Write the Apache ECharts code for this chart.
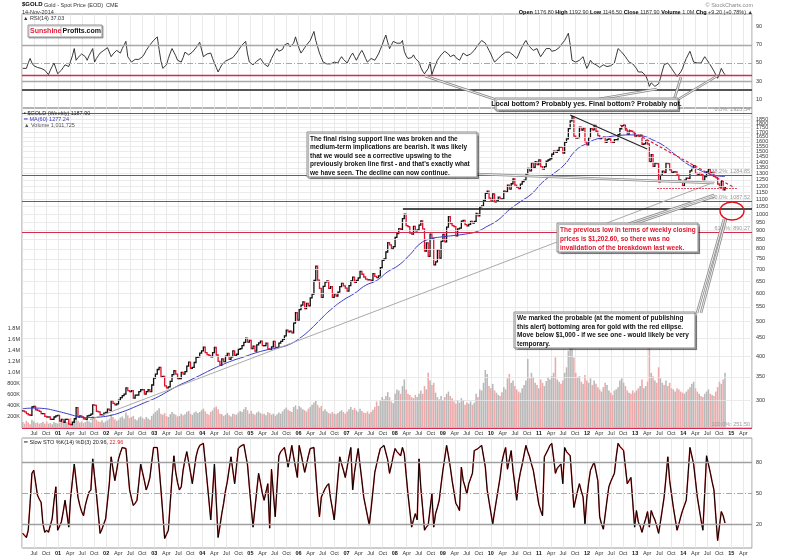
<!DOCTYPE html>
<html><head><meta charset="utf-8">
<script src="https://cdn.jsdelivr.net/npm/echarts@6.0.0/dist/echarts.min.js"></script>
<style>html,body{margin:0;padding:0;background:#fff}#c{width:800px;height:556px}</style>
</head><body><div id="c"></div>
<script>
// ---- data (biweekly samples, Friday closes, from 2000-04-07 to 2014-11-14) ----
const startYear = 2000, startMonth = 3, startDay = 7, stepDays = 14;
const closes = [
281,279,276,274,273,288,289,283,282,280,276,276,271,270,270,266,266,270,272,273,
263,266,261,266,266,258,257,261,267,287,270,272,270,267,266,272,273,275,292,291,280,279,274,274,277,278,
284,282,300,295,292,294,301,306,310,313,326,320,318,320,305,311,311,318,322,322,313,318,322,318,332,347,
356,367,372,350,351,330,326,328,340,355,364,356,346,346,360,356,362,375,385,370,372,384,397,398,408,414,
424,409,404,402,398,409,423,403,387,377,393,386,400,407,392,398,414,402,405,418,420,428,437,449,438,443,
420,427,413,430,436,441,428,428,435,419,418,425,440,423,423,435,440,446,456,473,468,470,465,495,530,505,
540,556,568,544,562,554,583,597,652,715,654,620,585,628,645,650,620,627,585,598,590,605,627,640,630,621,
609,631,650,666,644,653,663,692,679,667,658,655,655,652,682,670,664,672,709,743,750,784,833,821,800,812,
862,883,912,908,972,1001,929,923,885,880,925,899,904,933,958,910,789,831,762,880,857,722,735,795,753,840,
878,837,920,985,942,930,923,870,910,915,957,962,935,928,937,955,945,955,1006,990,1050,1056,1095,1145,1162,1110,
1096,1140,1083,1090,1118,1102,1105,1161,1157,1208,1177,1218,1256,1208,1190,1181,1215,1236,1246,1297,1345,1325,1395,1353,1405,1378,1421,
1360,1340,1360,1410,1420,1430,1474,1504,1491,1510,1542,1540,1486,1592,1628,1740,1828,1880,1657,1636,1642,1755,1724,1746,1598,1565,
1640,1740,1725,1775,1710,1662,1630,1642,1645,1592,1622,1627,1598,1592,1619,1620,1672,1738,1773,1780,1724,1676,1714,1711,1696,1656,
1662,1657,1667,1572,1577,1606,1575,1404,1470,1363,1391,1388,1234,1286,1321,1312,1395,1387,1333,1311,1315,1315,1288,1250,1235,1204,
1247,1264,1262,1323,1345,1370,1302,1294,1302,1294,1245,1275,1316,1337,1305,1310,1280,1268,1216,1192,1238,1172,1188
];
const volumesK = [
110,80,130,100,70,150,120,90,100,80,90,110,80,120,80,90,70,110,90,80,
100,130,90,150,110,140,180,110,150,200,130,100,120,90,110,140,120,100,220,180,150,120,110,140,100,120,
140,170,250,200,160,130,150,190,210,170,280,230,180,200,220,160,140,190,210,180,160,200,170,150,220,260,
290,320,360,260,240,270,220,200,250,290,260,240,210,220,260,230,250,290,310,260,240,280,300,270,290,320,
350,300,260,240,290,320,370,390,340,260,250,220,240,270,230,210,260,250,240,280,310,290,340,380,320,260,
310,260,240,280,300,270,250,260,230,290,270,240,260,220,250,280,260,300,340,370,330,310,290,380,410,340,
400,370,340,320,300,350,380,420,460,500,420,370,400,310,340,300,270,260,290,260,250,270,300,320,290,260,
300,340,380,330,360,320,290,350,310,280,270,300,260,290,330,380,480,400,500,560,520,580,650,560,480,450,
620,700,680,620,760,880,700,620,600,560,540,600,560,620,680,620,760,700,1000,860,780,820,640,560,520,580,
500,560,620,660,580,540,480,440,500,460,540,500,420,460,440,480,420,460,620,560,700,680,820,1050,980,760,
720,800,680,640,600,580,650,740,700,900,980,820,860,760,700,660,640,720,780,860,1250,900,1000,920,820,780,720,
880,820,760,850,920,880,940,1000,1280,880,840,800,860,1000,1100,1400,1540,1450,1280,1000,920,940,840,800,960,860,
820,900,780,860,800,740,700,660,740,820,780,680,640,600,680,700,740,860,900,820,760,680,640,620,680,640,
680,720,760,880,720,760,840,1450,1000,940,860,820,1100,900,820,780,860,760,820,720,700,660,720,700,660,640,
620,660,700,740,800,840,720,660,620,580,560,620,660,700,620,600,580,660,740,840,800,880,1000
];
const rsi14 = [
44,43,44,50,55,50,47,46,45,45, 44,44,42,40,37,42,46,50,44,38, 40,42,45,48,47,46,52,58,66,53,
56,58,60,61,57,53,58,62,66,51, 55,58,61,63,64,66,67,68,57,60, 62,64,62,61,66,70,74,57,54,51,
53,54,55,54,53,57,60,64,67,70, 72,75,77,79,65,52,44,46,48,55, 61,66,62,58,53,52,51,56,62,60,
59,59,62,64,67,70,73,75,57,59, 60,61,61,55,50,45,40,44,48,50, 52,53,54,55,56,57,61,64,67,70,
72,74,60,51,50,48,50,52,53,55, 52,49,47,46,50,55,59,63,66,63, 61,65,70,72,72,68,66,72,79,72,
66,61,64,67,70,72,75,80,85,75, 68,61,56,51,50,49,48,49,50,51, 51,50,54,57,54,52,50,54,58,61,
57,53,57,61,64,60,55,51,53,55, 55,53,51,60,65,70,76,81,73,66, 70,74,73,72,72,72,75,63,58,55,
53,56,59,55,53,51,45,41,38,37, 44,51,37,43,48,53,56,59,61,63, 64,60,57,58,59,56,55,53,57,61,
59,58,57,60,62,64,67,70,72,75, 77,72,68,64,60,55,51,53,55,57, 59,61,62,64,62,60,59,57,55,59,
64,68,72,75,71,68,66,64,65,66, 61,57,60,63,66,68,66,63,64,64, 64,67,70,72,75,79,83,70,53,52,
51,51,53,55,57,50,44,48,53,50, 49,48,46,45,44,48,47,46,46,47, 49,50,58,66,64,62,61,57,54,51,
50,49,48,44,40,40,40,40,36,31, 24,28,26,24,22,27,33,41,48,49, 50,47,44,41,38,35,37,40,44,50,
55,59,63,57,51,50,50,50,50,51, 57,54,51,48,46,41,37,33,38,44, 40,37
];
const stoK = [
11,9,7,14,40,69,72,60,48,44, 41,20,12,14,12,11,25,42,56,14, 18,22,32,43,30,17,45,62,78,62,
46,38,32,28,38,45,51,53,83,66, 49,30,11,15,20,25,42,59,85,73, 62,72,83,89,94,94,93,73,53,45,
38,40,43,60,78,70,62,53,58,65, 80,94,95,94,75,53,30,6,10,14, 40,65,86,70,60,53,56,72,82,90,
80,70,59,72,85,92,96,97,98,80, 62,43,24,50,78,42,7,18,30,40, 52,61,73,85,72,59,76,93,95,96,
97,98,77,56,36,17,35,52,69,60, 50,43,51,59,16,73,50,27,56,86, 90,92,94,85,75,85,96,85,75,65,
96,88,79,70,78,86,93,94,94,70, 45,27,46,50,54,57,59,45,35,24, 44,65,85,78,72,65,75,85,94,53,
70,82,93,77,62,46,37,28,19,35, 52,70,78,86,93,94,96,96,82,69, 77,86,93,90,88,86,94,88,68,49,
33,17,24,30,24,83,55,35,14,17, 19,34,49,17,30,36,43,58,72,84, 96,86,75,62,51,40,37,33,75,62,
56,49,59,64,69,91,91,93,94,96, 96,75,53,42,31,20,32,43,54,65, 80,88,94,73,73,91,72,58,43,60,
70,78,87,96,90,85,78,72,61,50, 39,33,28,85,85,92,96,98,84,69, 74,76,78,59,94,90,88,86,61,36,
44,52,59,52,46,20,45,60,72,76, 80,71,62,27,20,15,15,43,56,61, 65,69,85,98,95,93,91,75,59,62,
65,41,17,33,22,18,12,19,25,32, 17,33,28,24,18,11,22,34,46,65, 85,62,49,36,25,14,20,27,33,38,
43,68,94,86,78,62,46,35,24,14, 50,86,78,70,61,53,28,4,18,32, 28,21
];
// MA(60) read every 6th sample, last value at the final sample
const maStep = 6;
const ma60 = [285,286,285,281,276,271,269,270,273,279,287,296,305,317,330,341,353,366,378,389,398,408,416,422,430,448,475,510,545,575,600,632,652,690,720,770,830,855,865,872,880,893,925,965,1030,1085,1140,1230,1300,1380,1510,1580,1630,1650,1665,1670,1660,1615,1555,1470,1390,1340,1300,1280,1277];
const priceTicks = [300,350,400,450,500,550,600,650,700,750,800,850,900,950,1000,1050,1100,1150,1200,1250,1300,1350,1400,1450,1500,1550,1600,1650,1700,1750,1800,1850,1900];
const rsiTicks = [10,30,50,70,90];
const stoTicks = [20,50,80];
const fibNames = ['0.0%','38.2%','50.0%','61.8%','100.0%'];
const fibValues = [1923.54,1284.85,1087.52,890.27,251.50];
const quarterNames = ['','Apr','Jul','Oct'];

// ---- helpers ----
function decYear(t){const d=new Date(t);const y=d.getUTCFullYear();const s=Date.UTC(y,0,1),e=Date.UTC(y+1,0,1);return y+(t-s)/(e-s);}
const t0 = Date.UTC(startYear,startMonth,startDay);
const xs = closes.map((_,i)=>decYear(t0+i*stepDays*864e5));
const XMIN = 2000.25, XMAX = 2015.43;
const FONT = 'Liberation Sans, Arial, sans-serif';

const priceData = closes.map((c,i)=>[xs[i], i?closes[i-1]:c, c]);
const volData = volumesK.map((v,i)=>({value:[xs[i], v*1000], itemStyle:{color:(i>0&&closes[i]<closes[i-1])?'#eeaaaa':'#b9b9b9'}}));
const maData = ma60.map((v,k)=>[xs[Math.min(k*maStep, closes.length-1)], v]);
const rsiData = rsi14.map((v,i)=>[xs[i],v]);
const rsiHiBase = rsi14.map((v,i)=>[xs[i],70]);
const rsiHiTop = rsi14.map((v,i)=>[xs[i],Math.max(v,70)-70]);
const rsiLoBase = rsi14.map((v,i)=>[xs[i],Math.min(v,30)]);
const rsiLoTop = rsi14.map((v,i)=>[xs[i],30-Math.min(v,30)]);
const stoData = stoK.map((v,i)=>[xs[i],v]);

function xLabel(v){const q=Math.round(v*4); if(Math.abs(v*4-q)>0.01) return ''; const y=Math.floor(q/4), m=q-y*4; if(m===0) return '{b|'+String(y%100).padStart(2,'0')+'}'; return quarterNames[m];}
function xAxisCfg(grid, showLabel){
  return {type:'value', gridIndex:grid, min:XMIN, max:XMAX, interval:0.25,
    axisLine:{show:false}, axisTick:{show:false},
    splitLine:{show:true, lineStyle:{color:'#e3e3e3', width:0.8}},
    axisLabel:{show:showLabel, formatter:xLabel, fontSize:5.5, fontFamily:FONT, color:'#333', margin:2, showMinLabel:false, showMaxLabel:false,
      rich:{b:{fontSize:5.5, fontWeight:'bold', fontFamily:FONT, color:'#111'}}}};
}
const lbl = {fontSize:5.5, fontFamily:FONT, color:'#333', margin:4, formatter:function(v){return String(v);}};
const noLine = {show:false};

const fibMarks = fibValues.map((v,i)=>({yAxis:v, lineStyle:{color:'#d42c4e', width:1.2, type:'solid'},
  label:{show:true, position:'insideEndTop', formatter:fibNames[i]+': '+v.toFixed(2), fontSize:5.5, fontFamily:FONT, color:'#999', distance:[2,1]}}));
function seg(a,b,style){return [{coord:a, lineStyle:style},{coord:b, lineStyle:style}];}
const trendMarks = [
  seg([2001.66,265],[2014.66,1233],{color:'#aaa',width:1,type:'solid'}),
  seg([2008.17,1035],[XMAX,1035],{color:'#111',width:1.5,type:'solid'}),
  seg([2011.65,1900],[2013.25,1525],{color:'#222',width:1.1,type:'solid'}),
  seg([2012.69,1780],[2015.04,1193],{color:'#e0102f',width:1.1,type:[3,2]}),
  seg([2013.46,1180],[2015.12,1180],{color:'#e0102f',width:1,type:[1.5,1.5]})
];

const chart = echarts.init(document.getElementById('c'), null, {renderer:'canvas'});

function box(x,y,w,h){return {type:'rect', z:95, shape:{x:x,y:y,width:w,height:h}, style:{fill:'#fff', stroke:'#8a8a8a', lineWidth:1, shadowColor:'rgba(0,0,0,0.35)', shadowOffsetX:1.5, shadowOffsetY:1.5, shadowBlur:1}};}
function txt(x,y,text,opt){return Object.assign({type:'text', z:97, x:x, y:y, style:Object.assign({text:text, font:'5.5px '+FONT, fill:'#333', textAlign:'left', textVerticalAlign:'top'}, opt||{})});}
function conn(x1,y1,x2,y2){return [
  {type:'line', z:90, shape:{x1:x1,y1:y1,x2:x2,y2:y2}, style:{stroke:'#8c8c8c', lineWidth:2.6}},
  {type:'line', z:91, shape:{x1:x1,y1:y1,x2:x2,y2:y2}, style:{stroke:'#ececec', lineWidth:1}}];}

const graphics = [].concat(
  conn(497,100,425,76), conn(593,100,657,89), conn(674,100,681,77), conn(677,100,717,76),
  conn(476,174,714,183), conn(628,224,714,195), conn(634,224,715,196), conn(697,313,724,219), conn(701,313,726,219),
  [
  {type:'ellipse', z:92, shape:{cx:732, cy:211, rx:12, ry:9}, style:{fill:null, stroke:'#e0101a', lineWidth:1.3}},
  // header
  txt(22,1.5,'$GOLD',{font:'bold 6px '+FONT, fill:'#000'}),
  txt(44,2.5,'Gold - Spot Price (EOD)  CME',{fill:'#333'}),
  txt(22,9,'14-Nov-2014',{fill:'#333'}),
  txt(753,2,'\u00a9 StockCharts.com',{textAlign:'right', fill:'#888'}),
  txt(753,9,'{b|Open} 1176.80 {b|High} 1192.90 {b|Low} 1146.50 {b|Close} 1187.90 {b|Volume} 1.0M {b|Chg} +9.20 (+0.78%) \u25b2',{textAlign:'right', fill:'#333', rich:{b:{font:'bold 5.5px '+FONT, fill:'#000'}}}),
  txt(23,15.5,'\u25b2 RSI(14) 37.03',{fill:'#333'}),
  // logo
  {type:'rect', z:95, shape:{x:28,y:25,width:74,height:12}, style:{fill:'#fff', stroke:'#999', lineWidth:1, shadowColor:'rgba(0,0,0,0.3)', shadowOffsetX:1, shadowOffsetY:1, shadowBlur:1}},
  {type:'line', z:96, shape:{x1:61,y1:26,x2:61,y2:36}, style:{stroke:'#bbb', lineWidth:1}},
  txt(30,27.5,'Sunshine',{font:'bold 7px '+FONT, fill:'#e0203a'}),
  txt(62.5,27.5,'Profits.com',{font:'bold 7px '+FONT, fill:'#111'}),
  // main legend
  txt(24,110.5,'\u25aa $GOLD (Weekly) 1187.90',{fill:'#222'}),
  txt(24,116.5,'\u2501 MA(60) 1277.24',{fill:'#3535b8'}),
  txt(24,122.5,'\u25b2 Volume 1,011,725',{fill:'#555'}),
  // sto legend
  txt(24,439.5,'\u2501 Slow STO %K(14) %D(3) 20.96, {r|22.96}',{fill:'#222', rich:{r:{font:'5.5px '+FONT, fill:'#e02020'}}}),
  // annotation boxes
  box(495,98,183,12),
  txt(586.5,100.5,'Local bottom? Probably yes. Final bottom? Probably not.',{font:'bold 7px '+FONT, fill:'#111', textAlign:'center'}),
  box(307,132,170,45),
  txt(310,134.5,"The final rising support line was broken and the\nmedium-term implications are bearish. It was likely\nthat we would see a corrective upswing to the\npreviously broken line first - and that's exactly what\nwe have seen. The decline can now continue.",{font:'bold 6.5px '+FONT, fill:'#111', lineHeight:8.5}),
  box(557,223,141,29),
  txt(560,225.5,'The previous low in terms of weekly closing\nprices is $1,202.60, so there was no\ninvalidation of the breakdown last week.',{font:'bold 6.5px '+FONT, fill:'#e3122a', lineHeight:9}),
  box(514,312,181,36),
  txt(517,314.5,'We marked the probable (at the moment of publishing\nthis alert) bottoming area for gold with the red ellipse.\nMove below $1,000 - if we see one - would likely be very\ntemporary.',{font:'bold 6.5px '+FONT, fill:'#111', lineHeight:8.4})
  ]);

const option = {
  animation:false,
  backgroundColor:'#fff',
  grid:[
    {left:22, right:48, top:14, height:94, show:true, borderColor:'#9a9a9a', borderWidth:1},
    {left:22, right:48, top:108, height:320, show:true, borderColor:'#9a9a9a', borderWidth:1},
    {left:22, right:48, top:438, height:110, show:true, borderColor:'#9a9a9a', borderWidth:1}
  ],
  xAxis:[xAxisCfg(0,false), xAxisCfg(1,true), xAxisCfg(2,true)],
  yAxis:[
    {type:'value', gridIndex:0, min:0, max:104.4, position:'right', axisLine:noLine, axisTick:noLine, splitLine:noLine,
      axisLabel:Object.assign({customValues:rsiTicks}, lbl)},
    {type:'log', gridIndex:1, min:251.5, max:1987, position:'right', axisLine:noLine, axisTick:noLine, splitLine:noLine,
      axisLabel:Object.assign({customValues:priceTicks}, lbl)},
    {type:'value', gridIndex:1, min:0, max:5800000, interval:200000, position:'left', axisLine:noLine, axisTick:noLine, splitLine:noLine,
      axisLabel:Object.assign({}, lbl, {margin:2, formatter:function(v){ if(v<=0||v>1800000) return ''; return v>=1e6?(v/1e6).toFixed(1)+'M':Math.round(v/1000)+'K';}})},
    {type:'value', gridIndex:2, min:-3.2, max:103.2, position:'right', axisLine:noLine, axisTick:noLine, splitLine:noLine,
      axisLabel:Object.assign({customValues:stoTicks}, lbl)}
  ],
  graphic:graphics,
  series:[
    // RSI shading
    {type:'line', xAxisIndex:0, yAxisIndex:0, data:rsiHiBase, stack:'hi', symbol:'none', lineStyle:{width:0}, silent:true, z:1},
    {type:'line', xAxisIndex:0, yAxisIndex:0, data:rsiHiTop, stack:'hi', symbol:'none', lineStyle:{width:0}, areaStyle:{color:'#6f9a72', opacity:1}, silent:true, z:1},
    {type:'line', xAxisIndex:0, yAxisIndex:0, data:rsiLoBase, stack:'lo', symbol:'none', lineStyle:{width:0}, silent:true, z:1},
    {type:'line', xAxisIndex:0, yAxisIndex:0, data:rsiLoTop, stack:'lo', symbol:'none', lineStyle:{width:0}, areaStyle:{color:'#c05252', opacity:1}, silent:true, z:1},
    {type:'line', xAxisIndex:0, yAxisIndex:0, data:rsiData, symbol:'none', lineStyle:{color:'#222', width:0.9}, silent:true, z:3,
      markLine:{silent:true, symbol:['none','none'], label:{show:false}, data:[
        {yAxis:70, lineStyle:{color:'#a8a8a8', width:1.4, type:'solid'}},
        {yAxis:50, lineStyle:{color:'#a8a8a8', width:1, type:[6,2,1,2]}},
        {yAxis:36, lineStyle:{color:'#d42c4e', width:1.3, type:'solid'}},
        {yAxis:30, lineStyle:{color:'#a8a8a8', width:1.4, type:'solid'}},
        {yAxis:20, lineStyle:{color:'#555', width:2.2, type:'solid'}}
      ]}},
    // main panel gridlines
    {type:'line', xAxisIndex:1, yAxisIndex:1, data:[], silent:true, z:0,
      markLine:{silent:true, symbol:['none','none'], label:{show:false}, lineStyle:{color:'#e6e6e6', width:0.8, type:'solid'},
        data:priceTicks.map(v=>({yAxis:v}))}},
    // volume
    {type:'bar', xAxisIndex:1, yAxisIndex:2, data:volData, barWidth:1.6, silent:true, z:1},
    // price bars
    {type:'custom', xAxisIndex:1, yAxisIndex:1, data:priceData, encode:{x:0, y:[1,2]}, silent:true, z:3, clip:true,
      renderItem:function(params, api){
        const x=api.value(0), o=api.value(1), c=api.value(2);
        const p1=api.coord([x,o]), p2=api.coord([x,c]);
        const col = c>=o ? '#111' : '#e3122d';
        return {type:'polyline', shape:{points:[[p1[0]-1.1,p1[1]],[p1[0],p1[1]],[p2[0],p2[1]],[p2[0]+1.1,p2[1]]]}, style:{stroke:col, lineWidth:1.3, fill:null}};
      }},
    // MA + lines
    {type:'line', xAxisIndex:1, yAxisIndex:1, data:maData, smooth:true, symbol:'none', lineStyle:{color:'#3b3bc4', width:1}, silent:true, z:4,
      markLine:{silent:true, symbol:['none','none'], label:{show:false}, data:fibMarks.concat(trendMarks)}},
    // STO
    {type:'line', xAxisIndex:2, yAxisIndex:3, data:stoData, symbol:'none', lineStyle:{color:'#e84848', width:1.5}, silent:true, z:2,
      markLine:{silent:true, symbol:['none','none'], label:{show:false}, data:[
        {yAxis:80, lineStyle:{color:'#a0a0a0', width:1.3, type:'solid'}},
        {yAxis:50, lineStyle:{color:'#a8a8a8', width:1, type:[6,2,1,2]}},
        {yAxis:20, lineStyle:{color:'#a0a0a0', width:1.3, type:'solid'}}
      ]}},
    {type:'line', xAxisIndex:2, yAxisIndex:3, data:stoData, symbol:'none', lineStyle:{color:'#000', width:1}, silent:true, z:3}
  ]
};
chart.setOption(option);
</script>
</body></html>
